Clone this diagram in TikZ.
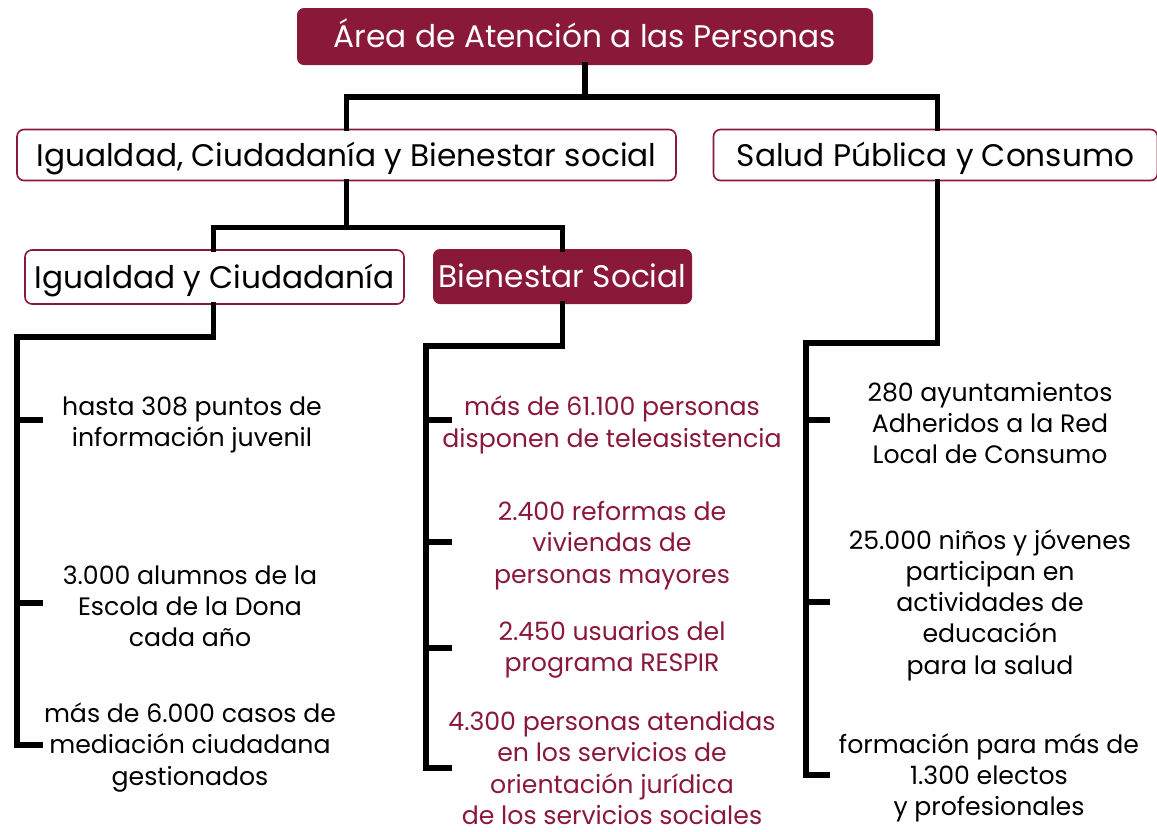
\documentclass[tikz,border=0pt]{standalone}
\usepackage{fontspec}
\setmainfont{Poppins}
\usetikzlibrary{calc}
\definecolor{maroon}{HTML}{8A1838}
\tikzset{
  boxfont/.style={font=\fontsize{31.2}{36}\selectfont, text height=28pt, text depth=6pt},
  fillbox/.style={boxfont, draw=none, fill=maroon, text=white, rounded corners=7pt, inner sep=0pt},
  linebox/.style={boxfont, draw=maroon, line width=1.6pt, fill=white, text=black, rounded corners=7pt, inner sep=0pt},
  conn/.style={line width=5.5pt, black, line join=miter, line cap=rect},
  item/.style={align=center, inner sep=0pt, font=\fontsize{25.2}{31.2}\selectfont},
  itemred/.style={item, text=maroon},
}
\begin{document}
\begin{tikzpicture}[x=1pt,y=-1pt]
\useasboundingbox (0,0) rectangle (1157,831);
% boxes
\node[fillbox, minimum width=576pt, minimum height=57pt] (top) at (585,36.5) {Área de Atención a las Personas};
\node[linebox, minimum width=659pt, minimum height=51pt] (icb) at (346.5,155) {Igualdad, Ciudadanía y Bienestar social};
\node[linebox, minimum width=444pt, minimum height=51pt] (spc) at (935.5,155) {Salud Pública y Consumo};
\node[linebox, minimum width=379pt, minimum height=54pt] (ic) at (214.5,277) {Igualdad y Ciudadanía};
\node[fillbox, minimum width=259pt, minimum height=55pt] (bs) at (562.5,276.5) {Bienestar Social};
% items
\node[item] (a1) at (192,425) {hasta 308 puntos de\\información juvenil};
\node[item] (a2) at (190,606) {3.000 alumnos de la\\Escola de la Dona\\cada año};
\node[item] (a3) at (190,747.5) {más de 6.000 casos de\\mediación ciudadana\\gestionados};
\node[itemred] (b1) at (612,425) {más de 61.100 personas\\disponen de teleasistencia};
\node[itemred] (b2) at (612,545.5) {2.400 reformas de\\viviendas de\\personas mayores};
\node[itemred] (b3) at (612,650) {2.450 usuarios del\\programa RESPIR};
\node[itemred] (b4) at (612,768) {4.300 personas atendidas\\en los servicios de\\orientación jurídica\\de los servicios sociales};
\node[item] (c1) at (990,423) {280 ayuntamientos\\Adheridos a la Red\\Local de Consumo};
\node[item] (c2) at (990,605) {25.000 niños y jóvenes\\participan en\\actividades de\\educación\\para la salud};
\node[item] (c3) at (989,778) {formación para más de\\1.300 electos\\y profesionales};
% spine coordinates
\coordinate (sa) at (17,337);
\coordinate (sb) at (426,346);
\coordinate (sc) at (806,343);
\coordinate (ta1) at (17,420);
\coordinate (ta2) at (17,603);
\coordinate (ta3) at (17,745);
\coordinate (tb1) at (426,420);
\coordinate (tb2) at (426,542);
\coordinate (tb3) at (426,648);
\coordinate (tb4) at (426,768);
\coordinate (tc1) at (806,420);
\coordinate (tc2) at (806,602);
\coordinate (tc3) at (806,775);
% connectors
\draw[conn] (top.south) -- ++(0,32) coordinate (t1) -| (icb.north);
\draw[conn] (t1) -| ($(spc.north)+(2,0)$);
\draw[conn] (icb.south) -- ++(0,46) coordinate (t2) -| ($(ic.north)+(-1,0)$);
\draw[conn] (t2) -| (bs.north);
\draw[conn] ($(ic.south)+(-1,0)$) |- (sa) -- (ta3) -- ++(23,0);
\draw[conn] (ta1) -- ++(23,0);
\draw[conn] (ta2) -- ++(23,0);
\draw[conn] (bs.south) |- (sb) -- (tb4) -- ++(23,0);
\draw[conn] (tb1) -- ++(23,0);
\draw[conn] (tb2) -- ++(23,0);
\draw[conn] (tb3) -- ++(23,0);
\draw[conn] ($(spc.south)+(2,0)$) |- (sc) -- (tc3) -- ++(21,0);
\draw[conn] (tc1) -- ++(21,0);
\draw[conn] (tc2) -- ++(21,0);
\end{tikzpicture}
\end{document}
